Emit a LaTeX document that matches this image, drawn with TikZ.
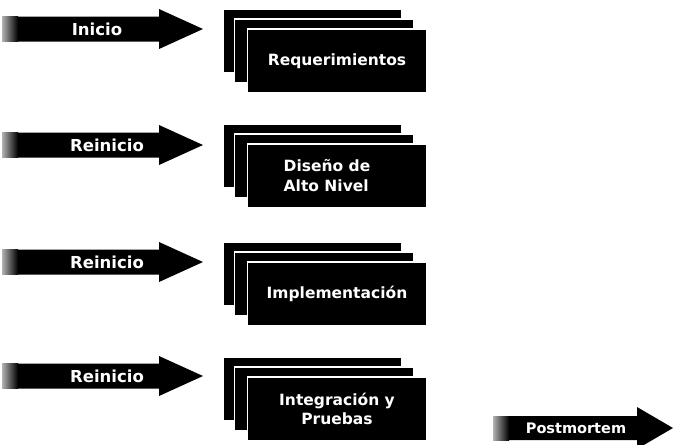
\documentclass[tikz,border=0pt]{standalone}
\usepackage{fontspec}
\setmainfont{DejaVu Sans}
\tikzset{
  arrowfill/.style={fill=black},
  arrowfade/.style={left color=black!30, right color=black},
  arrowlabel/.style={text=white, font=\fontsize{16.5}{19}\selectfont\bfseries, inner sep=0},
  smalllabel/.style={text=white, font=\fontsize{14.5}{17}\selectfont\bfseries, inner sep=0},
  stackbox/.style={fill=black, draw=white, line width=1.3pt, minimum width=179pt,
    minimum height=64pt, inner sep=0, outer sep=0},
  boxtext/.style={stackbox, text=white, align=center,
    font=\fontsize{15.5}{19}\selectfont\bfseries}
}
% fat arrow: left x, end of body, tip x, centre y, body half height, head half height
\newcommand\fatarrow[6]{%
  \fill[arrowfill] (#1,#4-#5) -- (#2,#4-#5) -- (#2,#4-#6) -- (#3,#4)
    -- (#2,#4+#6) -- (#2,#4+#5) -- (#1,#4+#5) -- cycle;
  \shade[arrowfade] (#1,#4-#5) rectangle (#1+16,#4+#5);
}
% stack of three cards, front card top edge at y = #1
\newcommand\cardstack[3]{%
  \node[stackbox] (#2a) at (312.5,#1+12) {};
  \node[stackbox] (#2b) at (324,#1+22) {};
  \node[boxtext] (#2) at (337,#1+32) {#3};
}
\begin{document}
\begin{tikzpicture}[x=1pt,y=-1pt]
\useasboundingbox (0,0) rectangle (673,445);
\clip (0,0) rectangle (673,445);

% row 1
\fatarrow{2}{159}{203}{29}{12.5}{20}
\node[arrowlabel] (inicio) at (97,29) {Inicio};
\cardstack{29}{req}{Requerimientos}

% row 2
\fatarrow{2}{159}{203}{145}{12.5}{20}
\node[arrowlabel] (reinicioA) at (107,145) {Reinicio};
\cardstack{144}{dis}{\hspace*{-20pt}\shortstack[l]{Diseño de\\[5pt]Alto Nivel}}

% row 3
\fatarrow{2}{159}{203}{262}{12.5}{20}
\node[arrowlabel] (reinicioB) at (107,262) {Reinicio};
\cardstack{262}{imp}{Implementación}

% row 4
\fatarrow{2}{159}{203}{376}{12.5}{20}
\node[arrowlabel] (reinicioC) at (107,376) {Reinicio};
\cardstack{377}{int}{Integración y\\Pruebas}

% closing arrow
\fatarrow{493}{637}{673}{428}{12}{21}
\node[smalllabel] (post) at (576,428) {Postmortem};
\end{tikzpicture}
\end{document}
